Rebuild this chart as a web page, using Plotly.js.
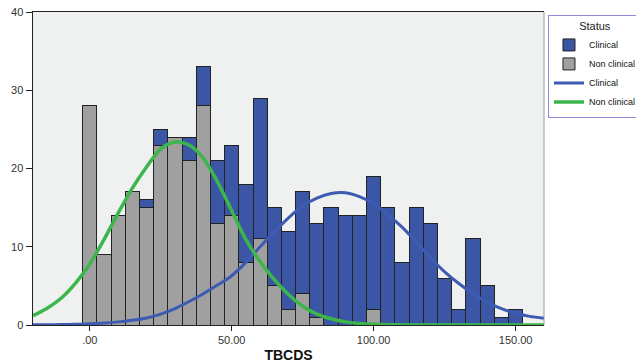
<!DOCTYPE html>
<html>
<head>
<meta charset="utf-8">
<script src="https://cdn.plot.ly/plotly-3.0.1.min.js"></script>
<style>html,body{margin:0;padding:0;background:#fff;}#chart{width:636px;height:363px;}</style>
</head>
<body>
<div id="chart"></div>
<script>
// Histogram bins (TBCDS), bin width 5
const binCenters = [0,5,10,15,20,25,30,35,40,45,50,55,60,65,70,75,80,85,90,95,100,105,110,115,120,125,130,135,140,145,150];
const nonClinicalCounts = [28,9,14,17,15,23,24,21,28,13,14,8,11,5,2,4,1,0,0,0,2,0,0,0,0,0,0,0,0,0,0];
const clinicalCounts    = [0,0,0,0,1,2,0,3,5,8,9,10,18,10,10,13,12,15,14,14,17,15,8,15,13,6,2,11,5,1,2];

// Normal curves
const curveX = [-20,-15,-10,-5,0,5,10,15,20,25,30,35,40,45,50,55,60,65,70,75,80,85,90,95,100,105,110,115,120,125,130,135,140,145,150,155,160];
const clinicalCurve    = [0.02,0.03,0.05,0.1,0.15,0.25,0.4,0.6,0.9,1.4,2.1,3.0,4.0,5.1,6.3,8.0,10.0,11.9,13.7,15.2,16.2,16.8,16.9,16.4,15.5,14.1,12.5,10.6,8.6,6.8,5.3,4.0,2.9,2.1,1.5,1.1,0.85];
const nonClinicalCurve = [1.2,2.15,3.45,5.35,7.8,10.9,14.3,17.5,20.2,22.5,23.4,23.0,21.3,18.3,14.6,10.9,8.1,5.8,3.9,2.4,1.4,0.8,0.4,0.2,0.08,0.03,0.01,0,0,0,0,0,0,0,0,0,0];

const xTickVals = [0,50,100,150];
const xTickText = ['.00','50.00','100.00','150.00'];
const yTickVals = [0,10,20,30,40];

const nz = a => a.map(v => v === 0 ? null : v);
const FONT = 'Arial, "Liberation Sans", sans-serif';

const traces = [
  {type:'bar', name:'Non clinical', x:binCenters, y:nz(nonClinicalCounts), width:5,
   marker:{color:'#a0a0a0', line:{color:'#222', width:1}}, legendrank:2},
  {type:'bar', name:'Clinical', x:binCenters, y:nz(clinicalCounts), width:5,
   marker:{color:'#3c56a6', line:{color:'#222', width:1}}, legendrank:1},
  {type:'scatter', mode:'lines', name:'Clinical', x:curveX, y:clinicalCurve,
   line:{color:'#3d5bb2', width:3, shape:'spline', smoothing:0.8}, legendrank:3},
  {type:'scatter', mode:'lines', name:'Non clinical', x:curveX, y:nonClinicalCurve,
   line:{color:'#3cb64a', width:3.5, shape:'spline', smoothing:0.8}, legendrank:4}
];

const layout = {
  width:636, height:363,
  margin:{l:33, r:92, t:12, b:38, autoexpand:false},
  paper_bgcolor:'#ffffff',
  plot_bgcolor:'#eff1f1',
  barmode:'stack', bargap:0,
  font:{family:FONT, color:'#222', size:11},
  showlegend:true,
  legend:{
    x:1.0078, xanchor:'left', y:0.99, yanchor:'top',
    bgcolor:'#ffffff', bordercolor:'#8a8ad6', borderwidth:1,
    font:{family:FONT, size:9, color:'#111'},
    title:{text:'Status', side:'top center', font:{family:FONT, size:11, color:'#222'}},
    traceorder:'normal', itemwidth:30
  },
  xaxis:{
    range:[-20,160], tickvals:xTickVals, ticktext:xTickText,
    ticks:'outside', ticklen:5, tickcolor:'#222', tickwidth:1,
    showline:true, linecolor:'#222', linewidth:1, mirror:true,
    showgrid:false, zeroline:false,
    tickfont:{family:FONT, size:11, color:'#333'},
    title:{text:'<b>TBCDS</b>', font:{family:FONT, size:14, color:'#111'}, standoff:4}
  },
  yaxis:{
    range:[0,40], tickvals:yTickVals,
    ticks:'outside', ticklen:6, tickcolor:'#222', tickwidth:1,
    showline:true, linecolor:'#222', linewidth:1.5,
    showgrid:false, zeroline:false,
    tickfont:{family:FONT, size:11, color:'#333'}
  },
  shapes:[
    {type:'line', xref:'paper', yref:'paper', x0:1, x1:1, y0:0, y1:1, line:{color:'#999', width:1}}
  ]
};

Plotly.newPlot('chart', traces, layout, {staticPlot:true, displayModeBar:false});
</script>
</body>
</html>
